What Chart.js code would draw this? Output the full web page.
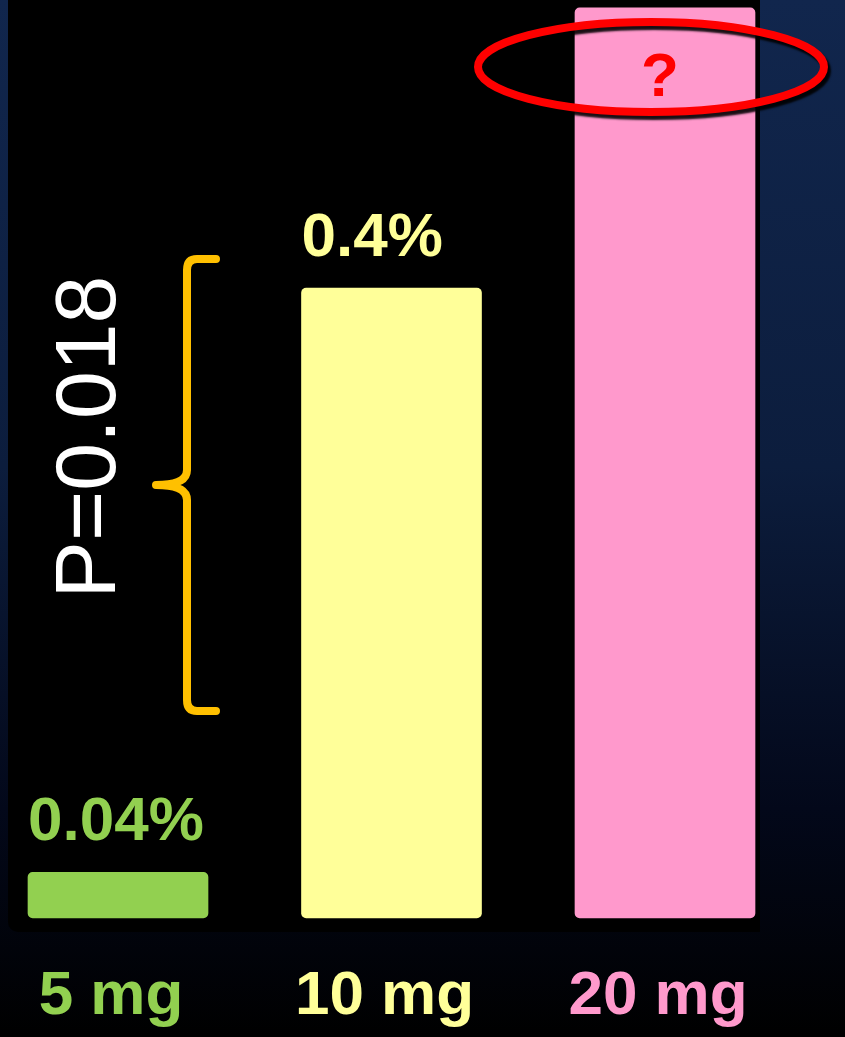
<!DOCTYPE html>
<html>
<head>
<meta charset="utf-8">
<script src="https://cdn.jsdelivr.net/npm/chart.js@4/dist/chart.umd.min.js"></script>
<style>
  html, body { margin: 0; padding: 0; }
  body {
    width: 845px; height: 1037px; overflow: hidden;
    background: linear-gradient(to bottom, #11264d 0%, #0c1d3d 45%, #03081a 78%, #000 100%);
  }
  #wrap { position: relative; width: 845px; height: 1037px; }
</style>
</head>
<body>
<div id="wrap"><canvas id="dose-chart" width="845" height="1037"></canvas></div>
<script>
// doses on the x axis
var doseLabels = ['5 mg', '10 mg', '20 mg'];
// bar heights (percent)
var barValues = [0.029, 0.4, 0.578];
// text shown above / inside each bar
var valueTexts = ['0.04%', '0.4%', '?'];
var barColors = ['#92d050', '#ffff99', '#ff99cc'];
var pValueText = 'P=0.018';

(function () {
  var FONT = '"Liberation Sans", Arial, Helvetica, sans-serif';

  var decorPlugin = {
    id: 'decor',
    beforeDraw: function (chart) {
      var ctx = chart.ctx;
      // black slide panel behind the bars
      ctx.save();
      ctx.fillStyle = '#000';
      ctx.beginPath();
      ctx.roundRect(8, -12, 752, 944, [0, 0, 0, 10]);
      ctx.fill();
      ctx.restore();
    },
    afterDatasetsDraw: function (chart) {
      var ctx = chart.ctx;
      var bars = chart.getDatasetMeta(0).data;

      ctx.save();
      // value labels
      ctx.font = 'bold 62px ' + FONT;
      ctx.textBaseline = 'alphabetic';
      bars.forEach(function (bar, i) {
        var txt = valueTexts[i];
        if (txt === '?') {
          ctx.fillStyle = '#ff0000';
          ctx.textAlign = 'center';
          ctx.fillText(txt, bar.x - 5, bar.y + 88);
        } else {
          ctx.fillStyle = barColors[i];
          ctx.textAlign = 'left';
          ctx.fillText(txt, bar.x - bar.width / 2, bar.y - 32);
        }
      });

      // red ellipse round the unknown value
      var pink = bars[2];
      ctx.shadowColor = 'rgba(0,0,0,0.9)';
      ctx.shadowOffsetX = 3;
      ctx.shadowOffsetY = 4;
      ctx.shadowBlur = 2;
      ctx.strokeStyle = '#ff0000';
      ctx.lineWidth = 8;
      ctx.beginPath();
      ctx.ellipse(pink.x - 14, 67, 173, 45, 0, 0, Math.PI * 2);
      ctx.stroke();
      ctx.shadowColor = 'transparent';

      // orange brace
      ctx.strokeStyle = '#ffc000';
      ctx.lineWidth = 8;
      ctx.lineCap = 'round';
      ctx.lineJoin = 'round';
      ctx.beginPath();
      ctx.moveTo(216, 259);
      ctx.lineTo(197, 259);
      ctx.quadraticCurveTo(187, 259, 187, 270);
      ctx.lineTo(187, 470);
      ctx.quadraticCurveTo(187, 485, 156, 485);
      ctx.quadraticCurveTo(187, 485, 187, 500);
      ctx.lineTo(187, 700);
      ctx.quadraticCurveTo(187, 711, 197, 711);
      ctx.lineTo(216, 711);
      ctx.stroke();

      // rotated p-value
      ctx.translate(115, 437);
      ctx.rotate(-Math.PI / 2);
      ctx.fillStyle = '#ffffff';
      ctx.font = '86px ' + FONT;
      ctx.textAlign = 'center';
      ctx.fillText(pValueText, 0, 0);
      ctx.restore();
    }
  };

  var canvasEl = document.getElementById('dose-chart');
  new Chart(canvasEl.getContext('2d'), {
    type: 'bar',
    data: {
      labels: doseLabels,
      datasets: [{
        data: barValues,
        backgroundColor: barColors,
        borderWidth: 0,
        borderRadius: 5,
        borderSkipped: false,
        barThickness: 180,
        clip: false
      }]
    },
    options: {
      responsive: false,
      animation: false,
      events: [],
      layout: { padding: { left: 118, right: 180, top: 0, bottom: 0 } },
      plugins: { legend: { display: false }, tooltip: { enabled: false } },
      scales: {
        x: {
          offset: false,
          grid: { display: false, drawTicks: false },
          border: { display: false },
          afterFit: function (scale) { scale.height = 119; },
          ticks: {
            padding: 42,
            labelOffset: -7,
            autoSkip: false,
            maxRotation: 0,
            font: { family: FONT, size: 62, weight: 'bold' },
            color: function (c) { return barColors[c.index]; }
          }
        },
        y: {
          display: false,
          min: 0,
          max: 0.583
        }
      }
    },
    plugins: [decorPlugin]
  });
})();
</script>
</body>
</html>
